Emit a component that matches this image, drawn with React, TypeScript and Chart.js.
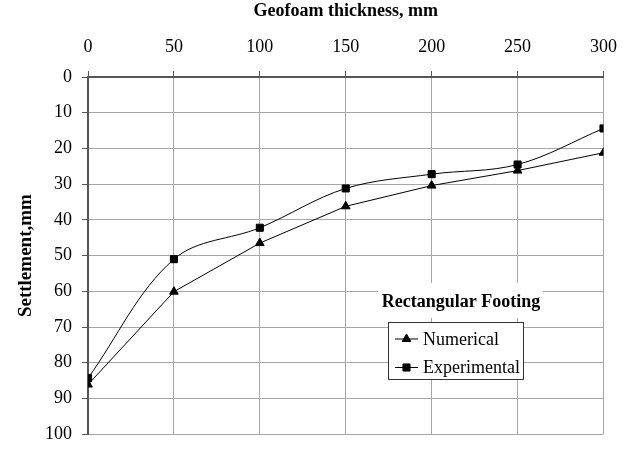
import React, { useEffect, useRef } from "react";
import { Chart, registerables } from "chart.js";

Chart.register(...registerables);

const thickness = [0, 50, 100, 150, 200, 250, 300];
const numerical = [86.1, 60.1, 46.5, 36.2, 30.4, 26.2, 21.2];
const experimental = [84.3, 51.0, 42.2, 31.2, 27.2, 24.5, 14.4];
const seriesLabels = ["Numerical", "Experimental"];
const legendTitle = "Rectangular Footing";
const xTitle = "Geofoam thickness, mm";
const yTitle = "Settlement,mm";

const SERIF = "'Liberation Serif', 'Times New Roman', serif";

function drawMarker(ctx: CanvasRenderingContext2D, style: string, x: number, y: number, r: number) {
  ctx.beginPath();
  if (style === "triangle") {
    ctx.moveTo(x, y - r);
    ctx.lineTo(x + r * Math.sin(Math.PI / 3), y + r * 0.5);
    ctx.lineTo(x - r * Math.sin(Math.PI / 3), y + r * 0.5);
    ctx.closePath();
  } else {
    const s = r * Math.SQRT1_2;
    ctx.rect(x - s, y - s, 2 * s, 2 * s);
  }
  ctx.fillStyle = "#000";
  ctx.fill();
  ctx.strokeStyle = "#000";
  ctx.lineWidth = 1;
  ctx.stroke();
}

const boxLegend = {
  id: "boxLegend",
  afterDatasetsDraw(chart: any) {
    const ctx: CanvasRenderingContext2D = chart.ctx;
    ctx.save();
    // title background
    ctx.fillStyle = "#fff";
    ctx.fillRect(378, 283, 165, 35);
    ctx.fillStyle = "#000";
    ctx.font = `bold 18px ${SERIF}`;
    ctx.textAlign = "center";
    ctx.textBaseline = "middle";
    ctx.fillText(legendTitle, 461, 302);
    // box
    ctx.fillStyle = "#fff";
    ctx.fillRect(388.5, 322.5, 135, 57);
    ctx.strokeStyle = "#333";
    ctx.lineWidth = 1;
    ctx.strokeRect(388.5, 322.5, 135, 57);
    chart.data.datasets.forEach((ds: any, i: number) => {
      const y = 339 + i * 28.5;
      ctx.beginPath();
      ctx.moveTo(395, y);
      ctx.lineTo(418, y);
      ctx.strokeStyle = "#000";
      ctx.lineWidth = 1;
      ctx.stroke();
      drawMarker(ctx, ds.pointStyle, 406.5, y, ds.pointRadius);
      ctx.fillStyle = "#000";
      ctx.font = `18px ${SERIF}`;
      ctx.textAlign = "left";
      ctx.textBaseline = "middle";
      ctx.fillText(ds.label, 423, y + 1);
    });
    ctx.restore();
  },
};

export default function App() {
  const ref = useRef<HTMLCanvasElement | null>(null);
  useEffect(() => {
    if (!ref.current) return;
    const tickFont = { family: SERIF, size: 18 };
    const grid = {
      color: "#a6a6a6",
      lineWidth: 1,
      tickLength: 6,
      tickColor: "#555",
      tickWidth: 1,
      drawTicks: true,
    };
    const chart = new Chart(ref.current, {
      type: "line",
      data: {
        datasets: [
          {
            label: seriesLabels[0],
            data: thickness.map((x, i) => ({ x, y: numerical[i] })),
            borderColor: "#000",
            borderWidth: 1,
            pointStyle: "triangle",
            pointRadius: 5,
            pointBackgroundColor: "#000",
            pointBorderColor: "#000",
            tension: 0,
          },
          {
            label: seriesLabels[1],
            data: thickness.map((x, i) => ({ x, y: experimental[i] })),
            borderColor: "#000",
            borderWidth: 1,
            pointStyle: "rect",
            pointRadius: 5,
            pointBackgroundColor: "#000",
            pointBorderColor: "#000",
            tension: 0.35,
          },
        ],
      },
      options: {
        animation: false,
        responsive: true,
        maintainAspectRatio: false,
        layout: { padding: { left: 0, top: 0, right: 24, bottom: 11 } },
        plugins: {
          legend: { display: false },
          tooltip: { enabled: false },
        },
        scales: {
          x: {
            type: "linear",
            position: "top",
            min: 0,
            max: 300,
            ticks: { stepSize: 50, font: tickFont, color: "#000", padding: 13 },
            grid,
            border: { color: "#555", width: 2 },
            title: {
              display: true,
              text: xTitle,
              color: "#000",
              font: { family: SERIF, size: 18, weight: "bold" },
              padding: { top: 1, bottom: 0 },
            },
            afterFit(s: any) {
              s.height = 77;
            },
          },
          y: {
            type: "linear",
            reverse: true,
            min: 0,
            max: 100,
            ticks: { stepSize: 10, font: tickFont, color: "#000", padding: 10 },
            grid,
            border: { color: "#555", width: 2 },
            title: {
              display: true,
              text: yTitle,
              color: "#000",
              font: { family: SERIF, size: 19, weight: "bold" },
              padding: { top: 15, bottom: 0 },
            },
            afterFit(s: any) {
              s.width = 88;
            },
          },
        },
      } as any,
      plugins: [boxLegend],
    });
    return () => chart.destroy();
  }, []);
  return (
    <div style={{ position: "absolute", left: 0, top: 0, width: 630, height: 455 }}>
      <canvas ref={ref} />
    </div>
  );
}
